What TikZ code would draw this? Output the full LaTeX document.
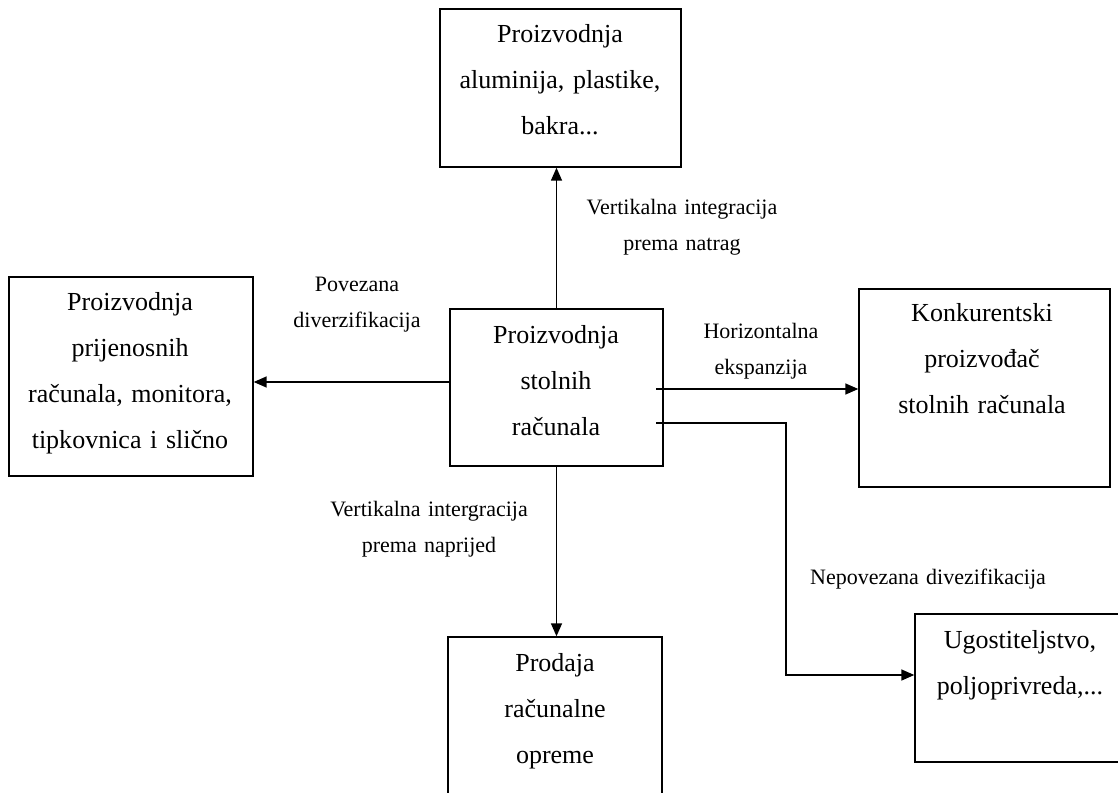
\documentclass[tikz,border=0pt]{standalone}
\usepackage{fontspec}
\setmainfont{Liberation Serif}
\usetikzlibrary{arrows.meta}
\begin{document}
\begin{tikzpicture}[x=1pt,y=-1pt,
  box/.style={draw, line width=1.4pt, inner sep=0pt},
  boxtext/.style={anchor=base, text width=250pt, align=center, inner sep=0pt, font=\fontsize{26}{46}\selectfont},
  lbl/.style={anchor=base, text width=280pt, align=center, inner sep=0pt, font=\fontsize{22}{36}\selectfont},
  conn/.style={line width=1.5pt, -{Triangle[length=13pt,width=11pt]}},
]
\useasboundingbox (0,0) rectangle (1118,792);
\clip (0,0) rectangle (1118,792);
% boxes
\node[box, minimum width=241pt, minimum height=158pt] (t) at (560.5,88) {};
\node[box, minimum width=244pt, minimum height=199pt] (l) at (131,376.5) {};
\node[box, minimum width=213pt, minimum height=157pt] (c) at (556.5,387.5) {};
\node[box, minimum width=251pt, minimum height=198pt] (r) at (984.5,388) {};
\node[box, minimum width=214pt, minimum height=193pt] (b) at (555,733.5) {};
\node[box, minimum width=245pt, minimum height=148pt] (u) at (1037.5,688) {};
% box texts
\node[boxtext] (tt) at (560,43) {Proizvodnja\\aluminija, plastike,\\bakra...};
\node[boxtext] (lt) at (130,310) {Proizvodnja\\prijenosnih\\računala, monitora,\\tipkovnica i slično};
\node[boxtext] (ct) at (556,343) {Proizvodnja\\stolnih\\računala};
\node[boxtext] (rt) at (982,321) {Konkurentski\\proizvođač\\stolnih računala};
\node[boxtext] (bt) at (555,671) {Prodaja\\računalne\\opreme};
\node[boxtext] (ut) at (1020,648) {Ugostiteljstvo,\\poljoprivreda,...};
% labels
\node[lbl] (l1) at (682,214) {Vertikalna integracija\\prema natrag};
\node[lbl] (l2) at (357,291) {Povezana\\diverzifikacija};
\node[lbl] (l3) at (761,338) {Horizontalna\\ekspanzija};
\node[lbl] (l4) at (429,516) {Vertikalna intergracija\\prema naprijed};
\node[lbl] (l5) at (928,584) {Nepovezana divezifikacija};
% connectors
\coordinate (ls) at (450,382);
\coordinate (rs) at (656,389);
\coordinate (e1) at (656,423);
\coordinate (e2) at (786,675);
\draw[conn] (c.north) -- (c.north |- t.south);
\draw[conn] (c.south) -- (c.south |- b.north);
\draw[conn] (ls) -- (ls -| l.east);
\draw[conn] (rs) -- (rs -| r.west);
\draw[conn] (e1) -| (e2) -- (e2 -| u.west);
\end{tikzpicture}
\end{document}
